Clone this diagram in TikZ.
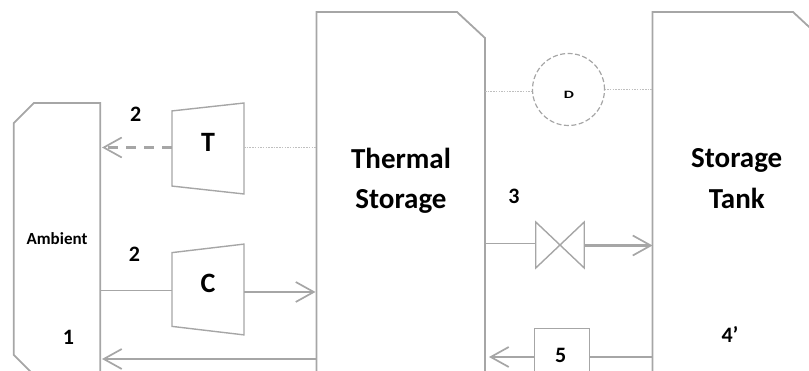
\documentclass[tikz,border=0pt]{standalone}
\usepackage{fontspec}
\setmainfont{Carlito}
\usepackage{tikz}
\usetikzlibrary{arrows.meta, positioning, shapes.geometric, shapes.misc}
\definecolor{linegray}{HTML}{A6A6A6}
\definecolor{dotgray}{HTML}{BFBFBF}
\begin{document}
\begin{tikzpicture}[
  x=1pt, y=-1pt,
  tank/.style={chamfered rectangle, draw=linegray, line width=1.8pt, outer sep=0pt, inner sep=0pt, align=center, font=\bfseries\fontsize{17}{19}\selectfont},
  vessel/.style={minimum width=168.5pt, minimum height=400pt, inner sep=0pt, outer sep=0pt},
  outline/.style={draw=linegray, line width=1.8pt},
  machine/.style={trapezium, shape border rotate=90, trapezium angle=76.7, draw=linegray, line width=1.4pt, outer sep=0pt, inner sep=0pt, minimum height=72pt, trapezium stretches=true, minimum width=91pt, font=\bfseries\fontsize{28}{30}\selectfont},
  tag/.style={font=\bfseries\fontsize{22}{24}\selectfont, inner sep=0pt},
  title/.style={font=\bfseries\fontsize{29}{40.5}\selectfont, align=center, inner sep=0pt},
  arrow/.style={-{Straight Barb[length=18pt, width=20pt, line width=1.7pt]}, draw=linegray, line width=2.2pt},
  thin line/.style={draw=linegray, line width=0.9pt},
  dot line/.style={draw=dotgray, line width=0.9pt, dash pattern=on 1.5pt off 1.2pt},
]
  \clip (0,0) rectangle (809,371);
  \useasboundingbox (0,0) rectangle (809,371);
  \node[tank, chamfered rectangle corners={north west, south west}, chamfered rectangle xsep=14pt, chamfered rectangle ysep=14pt, minimum width=86.5pt, minimum height=272pt] (ambient) at (57,239) {Ambient};
  \node[vessel] (thermal) at (400.75,212) {};
  \node[vessel] (storage) at (736.75,212) {};
  \draw[outline] (thermal.south west) -- (thermal.north west) -- ([xshift=-28pt]thermal.north east) -- ([yshift=-26pt]thermal.north east) -- (thermal.south east);
  \draw[outline] (storage.south west) -- (storage.north west) -- ([xshift=-28pt]storage.north east) -- ([yshift=-26pt]storage.north east) -- (storage.south east);
  \node[title] (thermallabel) at (401,181) {Thermal\\Storage};
  \node[title] (storagelabel) at (736.75,178.5) {Storage\\Tank};
  \node[machine] (turbine) at (208,148.5) {\raisebox{13pt}{T}};
  \node[machine] (compressor) at (208,289.5) {\raisebox{12pt}{C}};
  \node[circle, draw=linegray, line width=1.2pt, dash pattern=on 5pt off 2.5pt, minimum size=72pt, inner sep=0pt, outer sep=0pt] (pump) at (568.5,89.5) {};
  \node[font=\bfseries\fontsize{16}{18}\selectfont, yscale=0.7, inner sep=0pt] (pumplabel) at (569,95) {D};
  \node[minimum width=48.5pt, minimum height=46pt, inner sep=0pt, outer sep=0pt] (valve) at (560,245) {};
  \draw[draw=linegray, line width=1.4pt] (valve.north west) -- (valve.south east) -- (valve.north east) -- (valve.south west) -- cycle;
  \node[draw=linegray, line width=1pt, minimum width=55pt, minimum height=56pt, inner sep=0pt, outer sep=0pt] (heater) at (562,357) {};
  \node[tag] (five) at (560.7,355.7) {5};
  \node[tag] (two a) at (135.7,114) {2};
  \node[tag] (two b) at (134.5,254.3) {2};
  \node[tag] (one) at (68.5,337.7) {1};
  \node[tag] (three) at (514,196) {3};
  \node[tag] (four) at (730,334) {4’};
  \coordinate (ambient t) at (102,147.5);
  \coordinate (ambient c) at (100,290.5);
  \coordinate (ambient r) at (102,359);
  \draw[arrow, dash pattern=on 10pt off 8pt] (turbine.west |- ambient t) -- (ambient t);
  \draw[dot line] (turbine.east |- ambient t) -- (thermal.west |- ambient t);
  \draw[thin line] (ambient c) -- (compressor.west |- ambient c);
  \draw[arrow] ([yshift=-2.5pt]compressor.east) -- ([xshift=-1pt,yshift=-2.5pt]thermal.west |- compressor.east);
  \draw[arrow] (thermal.west |- ambient r) -- (ambient r);
  \draw[dot line] (thermal.east |- 0,91) -- (pump.west |- 0,91);
  \draw[dot line] (pump.east |- 0,89) -- (storage.west |- 0,89);
  \draw[thin line] ([yshift=1.5pt]valve.west -| thermal.east) -- ([yshift=1.5pt]valve.west);
  \draw[arrow] ([yshift=-0.5pt]valve.east) -- ([yshift=-0.5pt]valve.east -| storage.west);
  \draw[draw=linegray, line width=2.2pt] (heater.east) -- (storage.west |- heater.east);
  \draw[arrow] (heater.west) -- ([xshift=4pt]thermal.east |- heater.west);
\end{tikzpicture}
\end{document}
